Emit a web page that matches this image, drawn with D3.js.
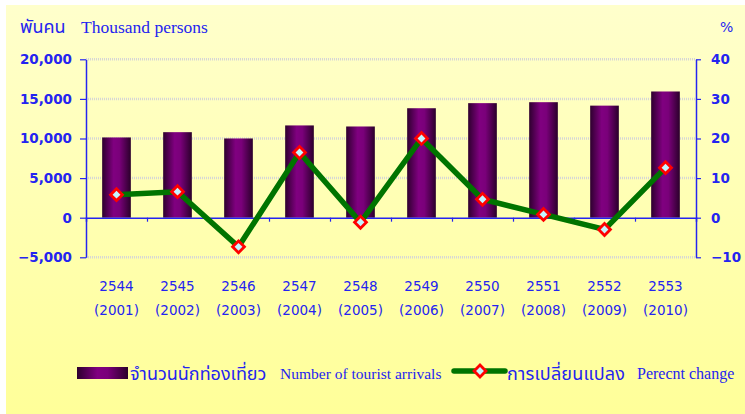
<!DOCTYPE html>
<html>
<head>
<meta charset="utf-8">
<script src="https://cdn.jsdelivr.net/npm/d3@7"></script>
<style>
  body { margin: 0; background: #fff; }
  svg { display: block; }
</style>
</head>
<body>
<svg id="chart" width="745" height="414"></svg>
<script>
// Data
const yearsBE = ['2544','2545','2546','2547','2548','2549','2550','2551','2552','2553'];
const yearsAD = ['2001','2002','2003','2004','2005','2006','2007','2008','2009','2010'];
const arrivals = [10133, 10799, 10004, 11651, 11517, 13822, 14464, 14584, 14150, 15936];
const pctChange = [5.82, 6.57, -7.36, 16.46, -1.15, 20.01, 4.65, 0.83, -2.98, 12.63];
const leftTicks = [-5000, 0, 5000, 10000, 15000, 20000];
const rightTicks = [-10, 0, 10, 20, 30, 40];

const blue = '#2424f0';
const thaiFont = "'Noto Sans Thai', 'Noto Sans', 'DejaVu Sans', sans-serif";
const sansFont = "'DejaVu Sans', Verdana, sans-serif";
const serifFont = "'Liberation Serif', 'DejaVu Serif', serif";

const svg = d3.select('#chart');
const defs = svg.append('defs');

// Background gradient
const bg = defs.append('linearGradient').attr('id', 'bgGrad')
  .attr('x1', 0).attr('y1', 0).attr('x2', 0).attr('y2', 1);
bg.append('stop').attr('offset', '0%').attr('stop-color', '#ffffcc');
bg.append('stop').attr('offset', '100%').attr('stop-color', '#ffff99');

// Bar gradient (dark edges, purple middle)
const bar = defs.append('linearGradient').attr('id', 'barGrad')
  .attr('x1', 0).attr('y1', 0).attr('x2', 1).attr('y2', 0);
bar.append('stop').attr('offset', '0%').attr('stop-color', '#2e002e');
bar.append('stop').attr('offset', '40%').attr('stop-color', '#800080');
bar.append('stop').attr('offset', '60%').attr('stop-color', '#7a007a');
bar.append('stop').attr('offset', '100%').attr('stop-color', '#2a002a');

svg.append('rect')
  .attr('x', 6).attr('y', 5).attr('width', 739).attr('height', 409)
  .attr('fill', 'url(#bgGrad)');

// Scales
const plotLeft = 86, plotRight = 696, plotTop = 59.3, plotBottom = 257.3;
const x = d3.scaleBand().domain(yearsBE).range([plotLeft, plotRight]).padding(0);
const xIdx = d3.scaleLinear().domain([0, yearsBE.length]).range([plotLeft, plotRight]);
const yL = d3.scaleLinear().domain([-5000, 20000]).range([plotBottom, plotTop]);
const yR = d3.scaleLinear().domain([-10, 40]).range([plotBottom, plotTop]);

// Gridlines
svg.append('g')
  .selectAll('line')
  .data(leftTicks.filter(d => d !== 0))
  .enter()
  .append('line')
  .attr('x1', plotLeft).attr('x2', plotRight)
  .attr('y1', d => yL(d)).attr('y2', d => yL(d))
  .attr('stroke', '#d6d6d6')
  .attr('stroke-width', 2.5)
  .attr('stroke-dasharray', '1,1');

// Bars
const barW = x.bandwidth() * 0.47;
svg.append('g')
  .selectAll('rect')
  .data(arrivals)
  .enter()
  .append('rect')
  .attr('x', (d, i) => x(yearsBE[i]) + (x.bandwidth() - barW) / 2)
  .attr('y', d => yL(d))
  .attr('width', barW)
  .attr('height', d => yL(0) - yL(d))
  .attr('fill', 'url(#barGrad)');

// X axis at zero, ticks at category boundaries
const xAxis = svg.append('g')
  .attr('transform', `translate(0,${yL(0)})`)
  .call(d3.axisBottom(xIdx).tickValues(d3.range(1, yearsBE.length)).tickSize(4).tickFormat(''));
xAxis.select('.domain').attr('stroke', blue).attr('stroke-width', 1.5);
xAxis.selectAll('.tick line').attr('stroke', blue).attr('stroke-width', 1.2);

// Left axis
const leftAxis = svg.append('g')
  .attr('transform', `translate(${plotLeft},0)`)
  .call(d3.axisLeft(yL).tickValues(leftTicks).tickSize(6).tickPadding(8)
    .tickFormat(d3.format(',')).tickSizeOuter(0));
// Right axis
const rightAxis = svg.append('g')
  .attr('transform', `translate(${plotRight},0)`)
  .call(d3.axisRight(yR).tickValues(rightTicks).tickSize(5).tickPadding(10).tickSizeOuter(0));

[leftAxis, rightAxis].forEach(g => {
  g.select('.domain').attr('stroke', blue).attr('stroke-width', 1.5);
  g.selectAll('.tick line').attr('stroke', blue).attr('stroke-width', 1.2);
  g.selectAll('text')
    .attr('fill', blue)
    .style('font-family', sansFont)
    .style('font-size', '13.5px')
    .style('font-weight', 'bold');
});

// Category labels (two rows)
const labels = svg.append('g')
  .style('font-family', sansFont)
  .style('font-size', '13.5px')
  .attr('fill', blue)
  .attr('text-anchor', 'middle');
labels.selectAll('.be')
  .data(yearsBE)
  .enter()
  .append('text')
  .attr('class', 'be')
  .attr('x', d => x(d) + x.bandwidth() / 2)
  .attr('y', 291)
  .text(d => d);
labels.selectAll('.ad')
  .data(yearsAD)
  .enter()
  .append('text')
  .attr('class', 'ad')
  .attr('x', (d, i) => x(yearsBE[i]) + x.bandwidth() / 2)
  .attr('y', 315)
  .text(d => `(${d})`);

// Percent change line
const line = d3.line()
  .x((d, i) => x(yearsBE[i]) + x.bandwidth() / 2)
  .y(d => yR(d));
svg.append('path')
  .datum(pctChange)
  .attr('d', line)
  .attr('fill', 'none')
  .attr('stroke', '#007400')
  .attr('stroke-width', 5.5)
  .attr('stroke-linejoin', 'miter');

const diamond = d3.symbol().type(d3.symbolSquare).size(70);
function addMarker(g, cx, cy) {
  g.append('path')
    .attr('d', diamond())
    .attr('transform', `translate(${cx},${cy}) rotate(45)`)
    .attr('fill', '#c4f4ff')
    .attr('stroke', '#ff0000')
    .attr('stroke-width', 2.8);
}
const markers = svg.append('g');
pctChange.forEach((d, i) => addMarker(markers, x(yearsBE[i]) + x.bandwidth() / 2, yR(d)));

// Titles
svg.append('text')
  .attr('x', 20).attr('y', 33)
  .attr('fill', blue)
  .style('font-family', thaiFont)
  .style('font-size', '18px')
  .text('พันคน');
svg.append('text')
  .attr('x', 81).attr('y', 33)
  .attr('fill', blue)
  .style('font-family', serifFont)
  .style('font-size', '17.5px')
  .text('Thousand persons');
svg.append('text')
  .attr('x', 720).attr('y', 32)
  .attr('fill', blue)
  .style('font-family', sansFont)
  .style('font-size', '14px')
  .text('%');

// Legend
const legend = svg.append('g');
legend.append('rect')
  .attr('x', 77).attr('y', 367).attr('width', 51).attr('height', 12)
  .attr('fill', 'url(#barGrad)');
legend.append('text')
  .attr('x', 130).attr('y', 380)
  .attr('fill', blue)
  .style('font-family', thaiFont)
  .style('font-size', '18px')
  .text('จำนวนนักท่องเที่ยว');
legend.append('text')
  .attr('x', 280).attr('y', 379)
  .attr('fill', blue)
  .style('font-family', serifFont)
  .style('font-size', '15.5px')
  .text('Number of tourist arrivals');
legend.append('line')
  .attr('x1', 454).attr('x2', 505)
  .attr('y1', 371).attr('y2', 371)
  .attr('stroke', '#007400').attr('stroke-width', 5.5).attr('stroke-linecap', 'round');
addMarker(legend, 480, 371);
legend.append('text')
  .attr('x', 507).attr('y', 380)
  .attr('fill', blue)
  .style('font-family', thaiFont)
  .style('font-size', '18px')
  .style('letter-spacing', '0.2px')
  .text('การเปลี่ยนแปลง');
legend.append('text')
  .attr('x', 637).attr('y', 379)
  .attr('fill', blue)
  .style('font-family', serifFont)
  .style('font-size', '16px')
  .text('Perecnt change');
</script>
</body>
</html>
